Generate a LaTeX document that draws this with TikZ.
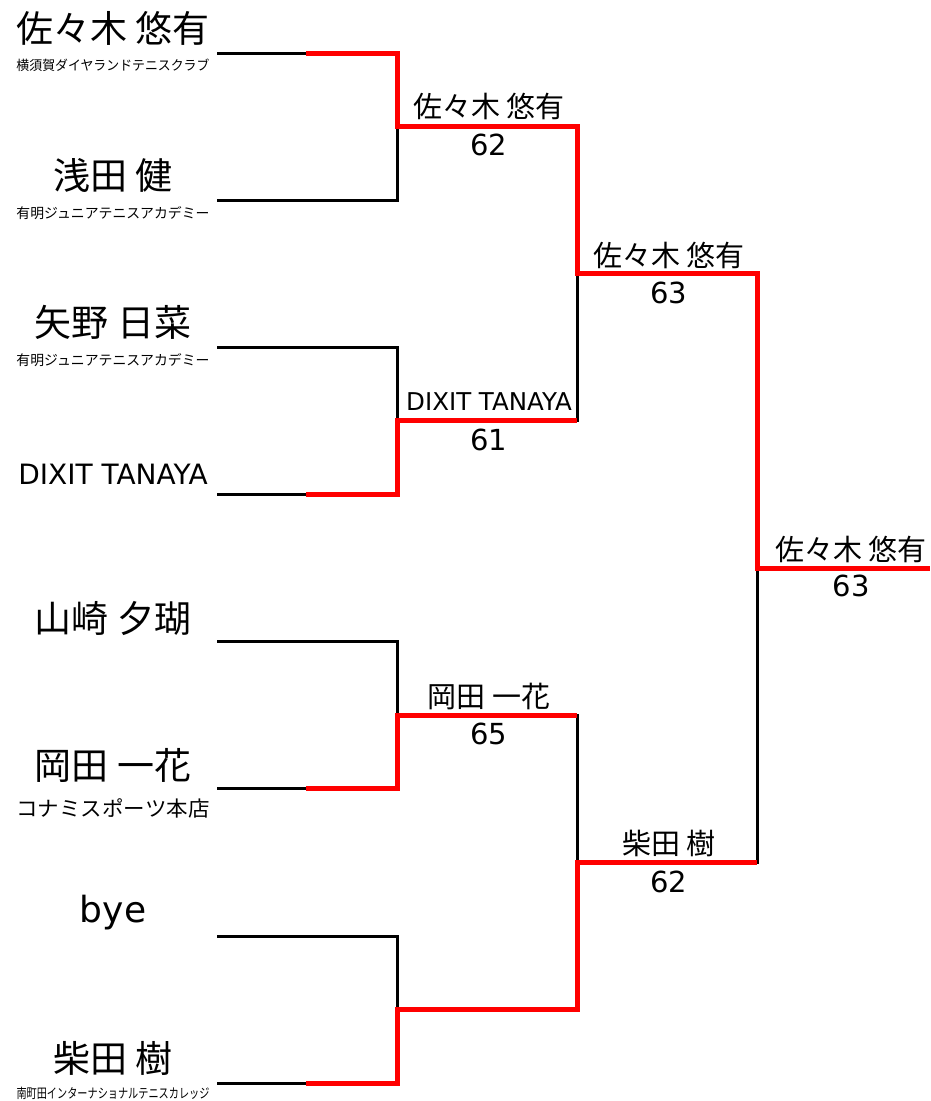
\documentclass[tikz,border=0pt]{standalone}
\usepackage{graphicx}
\usepackage{fontspec}
\setmainfont{DejaVu Sans}
\newfontfamily\jp{Noto Sans CJK JP}
\newcommand\clubname[2]{\resizebox{193pt}{\height}{\fontsize{#1}{#1}\selectfont\jp #2}}
\tikzset{
  loser/.style={line width=3pt, line join=miter},
  winner/.style={red, line width=5pt, line join=miter},
  pname/.style={font=\fontsize{37}{40}\selectfont\jp, inner sep=0pt},
  platin/.style={font=\fontsize{28}{30}\selectfont, inner sep=0pt},
  club/.style={inner sep=0pt},
  rname/.style={font=\fontsize{29}{32}\selectfont\jp, inner sep=0pt},
  rlatin/.style={font=\fontsize{24.5}{26}\selectfont, inner sep=0pt},
  score/.style={font=\fontsize{29}{32}\selectfont, inner sep=0pt},
}
\begin{document}
\begin{tikzpicture}[x=1pt, y=-1pt]
    \useasboundingbox (0,0) rectangle (930,1101);
    % players
    \node[pname] (n1) at (113,28) {佐々木 悠有};
    \node[club] (c1) at (113,65) {\clubname{13.5}{横須賀ダイヤランドテニスクラブ}};
    \node[pname] (n2) at (113,175) {浅田 健};
    \node[club] (c2) at (113,213) {\clubname{14}{有明ジュニアテニスアカデミー}};
    \node[pname] (n3) at (113,322) {矢野 日菜};
    \node[club] (c3) at (113,360) {\clubname{14}{有明ジュニアテニスアカデミー}};
    \node[platin] (n4) at (113,474) {DIXIT TANAYA};
    \node[pname] (n5) at (113,619) {山崎 夕瑚};
    \node[pname] (n6) at (113,765) {岡田 一花};
    \node[club] (c6) at (113,808) {\clubname{21}{コナミスポーツ本店}};
    \node[pname, font=\fontsize{36}{40}\selectfont] (n7) at (113,913) {bye};
    \node[pname] (n8) at (113,1058) {柴田 樹};
    \node[club] (c8) at (113,1093) {\clubname{13.5}{南町田インターナショナルテニスカレッジ}};
    % bracket points
    \coordinate (s1) at (217,53);
    \coordinate (s2) at (217,200);
    \coordinate (s3) at (217,347);
    \coordinate (s4) at (217,494);
    \coordinate (s5) at (217,641);
    \coordinate (s6) at (217,788);
    \coordinate (s7) at (217,936);
    \coordinate (s8) at (217,1083);
    \coordinate (m1) at (397,126);
    \coordinate (m2) at (397,420);
    \coordinate (m3) at (397,715);
    \coordinate (m4) at (397,1009);
    \coordinate (m5) at (577,273);
    \coordinate (m6) at (577,862);
    \coordinate (m7) at (757,568);
    \coordinate (champ) at (930,568);
    % black brackets
    \draw[loser] (s1) -| (m1) |- (s2);
    \draw[loser] (s3) -| (m2) |- (s4);
    \draw[loser] (s5) -| (m3) |- (s6);
    \draw[loser] (s7) -| (m4) |- (s8);
    \draw[loser] (m1) -| (m5) |- (m2);
    \draw[loser] (m3) -| (m6) |- (m4);
    \draw[loser] (m5) -| (m7) |- (m6);
    \draw[loser] (m7) -- (champ);
    % winners
    \draw[winner] (306,53) -| (m1) -| (m5) -| (m7) -- (champ);
    \draw[winner] (306,494) -| (m2) -- (m2 -| m5);
    \draw[winner] (306,788) -| (m3) -- (m3 -| m6);
    \draw[winner] (306,1083) -| (m4) -| (m6) -- (m6 -| m7);
    % results
    \node[rname] (r1) at (489,106) {佐々木 悠有};
    \node[score] (g1) at (489,145) {62};
    \node[rlatin] (r2) at (489,402) {DIXIT TANAYA};
    \node[score] (g2) at (489,440) {61};
    \node[rname] (r3) at (489,696) {岡田 一花};
    \node[score] (g3) at (489,734) {65};
    \node[rname] (r5) at (669,255) {佐々木 悠有};
    \node[score] (g5) at (669,293) {63};
    \node[rname] (r6) at (669,843) {柴田 樹};
    \node[score] (g6) at (669,882) {62};
    \node[rname] (r7) at (851,549) {佐々木 悠有};
    \node[score] (g7) at (851,586) {63};
\end{tikzpicture}
\end{document}
